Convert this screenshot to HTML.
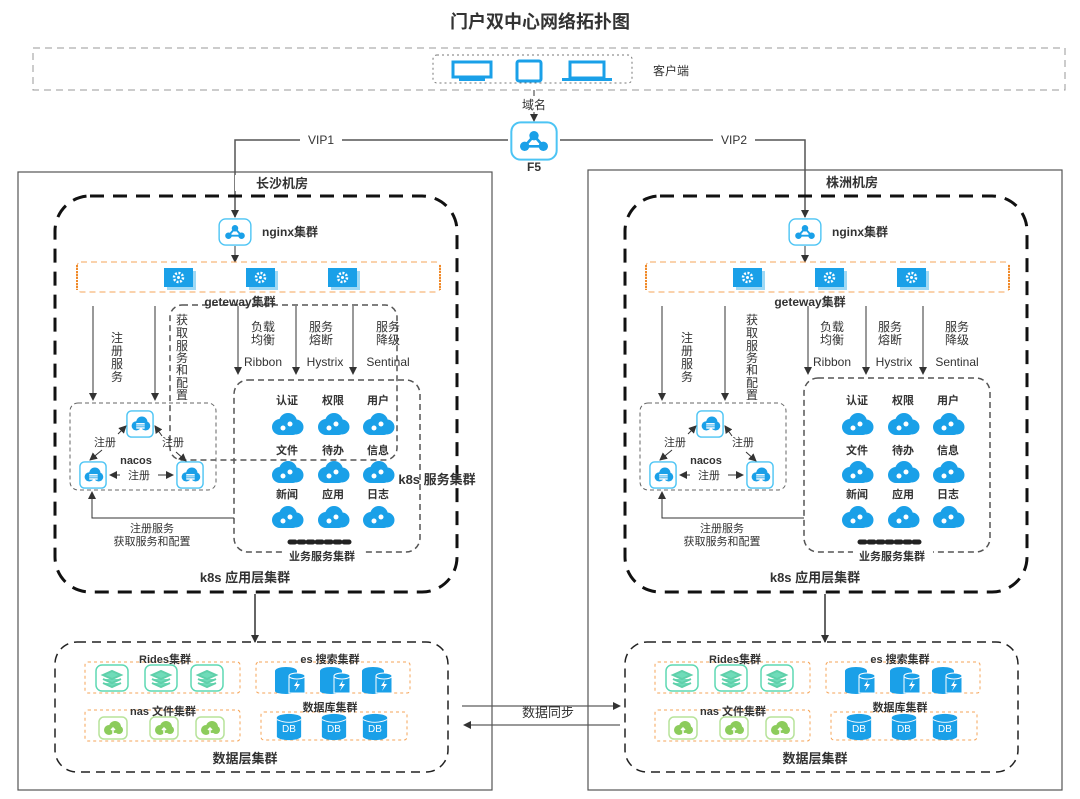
<!DOCTYPE html>
<html><head><meta charset="utf-8"><style>
html,body{margin:0;padding:0;background:#fff}
svg{display:block}
text{font-family:"Liberation Sans","Noto Sans CJK SC",sans-serif;fill:#333}
.b{font-weight:bold}
</style></head><body>
<svg width="1080" height="799" viewBox="0 0 1080 799" xmlns="http://www.w3.org/2000/svg">
<defs>
<marker id="ar" markerWidth="8" markerHeight="8" refX="7" refY="4" orient="auto" markerUnits="userSpaceOnUse"><path d="M0,0 L8,4 L0,8 z" fill="#333"/></marker>
<symbol id="hub" viewBox="0 0 36 30"><rect x="1" y="1" width="34" height="28" rx="7" fill="#fff" stroke="#4cc4f4" stroke-width="1.5"/><circle cx="18" cy="11" r="3.5" fill="#1aa0e8"/><circle cx="11" cy="19" r="3.5" fill="#1aa0e8"/><circle cx="25" cy="19" r="3.5" fill="#1aa0e8"/><path d="M18 11L11 19H25Z" fill="none" stroke="#1aa0e8" stroke-width="2"/></symbol>
<symbol id="gear" viewBox="0 0 32 22"><rect x="3" y="3" width="29" height="19" fill="#9fd9f5"/><rect x="0" y="0" width="29" height="19" fill="#1aa0e8"/><circle cx="14.5" cy="9.5" r="4.5" fill="none" stroke="#fff" stroke-width="2.5" stroke-dasharray="2 1.5"/><circle cx="14.5" cy="9.5" r="1.5" fill="#fff"/></symbol>
<symbol id="cloud" viewBox="0 0 34 26"><circle cx="10" cy="15" r="8" fill="#1aa0e8"/><circle cx="18" cy="10" r="9" fill="#1aa0e8"/><circle cx="26" cy="15" r="7.5" fill="#1aa0e8"/><rect x="8" y="14" width="19" height="9" rx="4" fill="#1aa0e8"/><circle cx="13" cy="16" r="2.5" fill="#fff"/><circle cx="20" cy="12" r="2.5" fill="#fff"/></symbol>
<symbol id="nac" viewBox="0 0 30 30"><rect x="1" y="1" width="28" height="28" rx="5" fill="#fff" stroke="#4cc4f4" stroke-width="1.5"/><circle cx="11" cy="17" r="5" fill="#1aa0e8"/><circle cx="17" cy="13" r="6" fill="#1aa0e8"/><circle cx="21" cy="17" r="5" fill="#1aa0e8"/><rect x="11" y="14" width="9" height="6" fill="#fff"/><path d="M11 16H20M11 18H20" stroke="#1aa0e8"/></symbol>
<symbol id="redis" viewBox="0 0 34 28"><rect x="1" y="1" width="32" height="26" rx="6" fill="#fff" stroke="#5fd9b4" stroke-width="1.5"/><path d="M8 11L17 7L26 11L17 15Z M8 15L17 19L26 15 M8 19L17 23L26 19" fill="#6fdcb9" stroke="#5fd0aa" stroke-width="2"/></symbol>
<symbol id="es" viewBox="0 0 34 28"><ellipse cx="13" cy="5" rx="11" ry="4" fill="#1aa0e8"/><rect x="2" y="5" width="22" height="20" fill="#1aa0e8"/><ellipse cx="13" cy="25" rx="11" ry="3" fill="#1aa0e8"/><rect x="16" y="10" width="16" height="17" fill="#1aa0e8" stroke="#fff"/><ellipse cx="24" cy="10" rx="8" ry="3" fill="#1aa0e8" stroke="#fff"/><path d="M25 14L21 20H24L22 25L27 18H24Z" fill="#fff"/></symbol>
<symbol id="nas" viewBox="0 0 30 24"><rect x="1" y="1" width="28" height="22" rx="5" fill="#fff" stroke="#b7e39a" stroke-width="1.5"/><circle cx="11" cy="14" r="5" fill="#8ccc5c"/><circle cx="17" cy="11" r="6" fill="#8ccc5c"/><circle cx="21" cy="14" r="4" fill="#8ccc5c"/><path d="M15 18V12M13 14L15 12L17 14" stroke="#fff" stroke-width="1.5" fill="none"/></symbol>
<symbol id="db" viewBox="0 0 28 30"><ellipse cx="14" cy="5" rx="13" ry="4" fill="#1aa0e8"/><rect x="1" y="5" width="26" height="20" fill="#1aa0e8"/><ellipse cx="14" cy="25" rx="13" ry="4" fill="#1aa0e8"/><path d="M1 7 Q14 13 27 7" stroke="#fff" fill="none"/></symbol>
</defs>

<text x="540" y="28" text-anchor="middle" font-size="18" class="b">门户双中心网络拓扑图</text>
<rect x="33" y="48" width="1032" height="42" fill="none" stroke="#999" stroke-dasharray="7 5"/>
<rect x="433" y="55" width="199" height="28" rx="4" fill="none" stroke="#777" stroke-dasharray="2 3"/>
<g fill="#1aa0e8"><rect x="453" y="62" width="38" height="15" fill="none" stroke="#1aa0e8" stroke-width="3"/><rect x="459" y="78" width="26" height="3"/>
<rect x="517" y="61" width="24" height="20" rx="2" fill="none" stroke="#1aa0e8" stroke-width="3"/>
<rect x="570" y="62" width="34" height="16" fill="none" stroke="#1aa0e8" stroke-width="3"/><rect x="562" y="78" width="50" height="3"/></g>
<text x="653" y="75" font-size="12">客户端</text>
<line x1="534" y1="90" x2="534" y2="96" stroke="#333"/>
<text x="534" y="109" text-anchor="middle" font-size="12">域名</text>
<line x1="534" y1="112" x2="534" y2="121" stroke="#333" marker-end="url(#ar)"/>
<use href="#hub" x="507" y="121" width="54" height="40"/>
<text x="534" y="171" text-anchor="middle" font-size="12" class="b">F5</text>
<path d="M508 140H235V217" fill="none" stroke="#555" stroke-width="1.5" marker-end="url(#ar)"/>
<path d="M560 140H805V217" fill="none" stroke="#555" stroke-width="1.5" marker-end="url(#ar)"/>
<rect x="300" y="132" width="42" height="14" fill="#fff"/><text x="321" y="144" text-anchor="middle" font-size="12">VIP1</text>
<rect x="713" y="132" width="42" height="14" fill="#fff"/><text x="734" y="144" text-anchor="middle" font-size="12">VIP2</text>

<!-- data sync -->
<line x1="462" y1="706" x2="620" y2="706" stroke="#333" marker-end="url(#ar)"/>
<line x1="620" y1="725" x2="464" y2="725" stroke="#333" marker-end="url(#ar)"/>
<text x="548" y="717" text-anchor="middle" font-size="13">数据同步</text>

<!-- LEFT -->
<g>
<rect x="18" y="172" width="474" height="618" fill="none" stroke="#555" stroke-width="1.2"/>
<rect x="235" y="175" width="95" height="16" fill="#fff"/>
<text x="282" y="188" text-anchor="middle" font-size="13" class="b">长沙机房</text>
<rect x="55" y="196" width="402" height="396" rx="35" fill="none" stroke="#111" stroke-width="3" stroke-dasharray="14 9"/>
<use href="#hub" x="217" y="218" width="36" height="28"/>
<text x="262" y="236" font-size="12" class="b">nginx集群</text>
<line x1="235" y1="246" x2="235" y2="262" stroke="#333" marker-end="url(#ar)"/>
<rect x="77" y="262" width="363" height="30" rx="4" fill="none" stroke="#f6a55a" stroke-dasharray="6 4"/>
<line x1="77" y1="265" x2="77" y2="290" stroke="#f08a2a" stroke-width="2" stroke-dasharray="2 1"/><line x1="440" y1="265" x2="440" y2="290" stroke="#f08a2a" stroke-width="2" stroke-dasharray="2 1"/>
<use href="#gear" x="164" y="268" width="32" height="22"/><use href="#gear" x="246" y="268" width="32" height="22"/><use href="#gear" x="328" y="268" width="32" height="22"/>
<rect x="170" y="305" width="227" height="155" rx="12" fill="none" stroke="#555" stroke-width="1.5" stroke-dasharray="6 4"/>
<text x="240" y="306" text-anchor="middle" font-size="12" class="b">geteway集群</text>
<line x1="93" y1="306" x2="93" y2="400" stroke="#333" marker-end="url(#ar)"/>
<line x1="155" y1="306" x2="155" y2="400" stroke="#333" marker-end="url(#ar)"/>
<g font-size="12" text-anchor="middle"><text x="117" y="342">注</text><text x="117" y="355">册</text><text x="117" y="368">服</text><text x="117" y="381">务</text>
<text x="182" y="324">获</text><text x="182" y="337">取</text><text x="182" y="350">服</text><text x="182" y="362">务</text><text x="182" y="374">和</text><text x="182" y="387">配</text><text x="182" y="399">置</text></g>
<line x1="238" y1="306" x2="238" y2="374" stroke="#333" marker-end="url(#ar)"/>
<line x1="296" y1="306" x2="296" y2="374" stroke="#333" marker-end="url(#ar)"/>
<line x1="353" y1="306" x2="353" y2="374" stroke="#333" marker-end="url(#ar)"/>
<g font-size="12" text-anchor="middle"><text x="263" y="331">负载</text><text x="263" y="344">均衡</text><text x="263" y="366">Ribbon</text>
<text x="321" y="331">服务</text><text x="321" y="344">熔断</text><text x="325" y="366">Hystrix</text>
<text x="388" y="331">服务</text><text x="388" y="344">降级</text><text x="388" y="366">Sentinal</text></g>
<rect x="70" y="403" width="146" height="87" rx="8" fill="none" stroke="#666" stroke-dasharray="4 3"/>
<use href="#nac" x="125" y="410" width="30" height="28"/><use href="#nac" x="78" y="461" width="30" height="28"/><use href="#nac" x="175" y="461" width="30" height="28"/>
<line x1="118" y1="434" x2="126" y2="426" stroke="#333" marker-end="url(#ar)"/><line x1="102" y1="450" x2="90" y2="460" stroke="#333" marker-end="url(#ar)"/>
<line x1="162" y1="436" x2="155" y2="426" stroke="#333" marker-end="url(#ar)"/><line x1="176" y1="452" x2="186" y2="461" stroke="#333" marker-end="url(#ar)"/>
<line x1="120" y1="475" x2="110" y2="475" stroke="#333" marker-end="url(#ar)"/><line x1="158" y1="475" x2="173" y2="475" stroke="#333" marker-end="url(#ar)"/>
<g font-size="11" text-anchor="middle"><text x="105" y="446">注册</text><text x="173" y="446">注册</text><text x="139" y="479">注册</text></g>
<text x="136" y="464" text-anchor="middle" font-size="11" class="b">nacos</text>
<rect x="234" y="380" width="186" height="172" rx="14" fill="none" stroke="#555" stroke-width="1.5" stroke-dasharray="6 4"/>
<g font-size="11" class="b" text-anchor="middle"><text x="287" y="404">认证</text><text x="333" y="404">权限</text><text x="378" y="404">用户</text>
<text x="287" y="454">文件</text><text x="333" y="454">待办</text><text x="378" y="454">信息</text>
<text x="287" y="498">新闻</text><text x="333" y="498">应用</text><text x="378" y="498">日志</text></g>
<g><use href="#cloud" x="270" y="412" width="34" height="26"/><use href="#cloud" x="316" y="412" width="34" height="26"/><use href="#cloud" x="361" y="412" width="34" height="26"/>
<use href="#cloud" x="270" y="460" width="34" height="26"/><use href="#cloud" x="316" y="460" width="34" height="26"/><use href="#cloud" x="361" y="460" width="34" height="26"/>
<use href="#cloud" x="270" y="505" width="34" height="26"/><use href="#cloud" x="316" y="505" width="34" height="26"/><use href="#cloud" x="361" y="505" width="34" height="26"/></g>
<line x1="290" y1="542" x2="352" y2="542" stroke="#222" stroke-width="5" stroke-dasharray="5 4" stroke-linecap="round"/>
<rect x="283" y="549" width="80" height="13" fill="#fff"/>
<text x="322" y="560" text-anchor="middle" font-size="11" class="b">业务服务集群</text>
<text x="437" y="484" text-anchor="middle" font-size="13" class="b">k8s 服务集群</text>
<path d="M234 518H92V492" fill="none" stroke="#333" marker-end="url(#ar)"/>
<text x="152" y="532" text-anchor="middle" font-size="11">注册服务</text><text x="152" y="545" text-anchor="middle" font-size="11">获取服务和配置</text>
<text x="245" y="582" text-anchor="middle" font-size="13" class="b">k8s 应用层集群</text>
<line x1="255" y1="594" x2="255" y2="642" stroke="#333" stroke-width="1.5" marker-end="url(#ar)"/>
<rect x="55" y="642" width="393" height="130" rx="22" fill="none" stroke="#222" stroke-width="1.5" stroke-dasharray="9 6"/>
<g fill="none" stroke="#f6a55a" stroke-dasharray="3 3"><rect x="85" y="662" width="155" height="31" rx="3"/><rect x="256" y="662" width="154" height="31" rx="3"/><rect x="85" y="710" width="155" height="31" rx="3"/><rect x="261" y="712" width="146" height="28" rx="3"/></g>
<g font-size="11" class="b" text-anchor="middle"><text x="165" y="663">Rides集群</text><text x="330" y="663">es 搜索集群</text><text x="163" y="715">nas 文件集群</text><text x="330" y="711">数据库集群</text></g>
<use href="#redis" x="95" y="664" width="34" height="28"/><use href="#redis" x="144" y="664" width="34" height="28"/><use href="#redis" x="190" y="664" width="34" height="28"/>
<use href="#es" x="273" y="666" width="34" height="28"/><use href="#es" x="318" y="666" width="34" height="28"/><use href="#es" x="360" y="666" width="34" height="28"/>
<use href="#nas" x="98" y="716" width="30" height="24"/><use href="#nas" x="149" y="716" width="30" height="24"/><use href="#nas" x="195" y="716" width="30" height="24"/>
<use href="#db" x="275" y="713" width="28" height="28"/><use href="#db" x="320" y="713" width="28" height="28"/><use href="#db" x="361" y="713" width="28" height="28"/>
<g font-size="10" fill="#fff" text-anchor="middle"><text x="289" y="732" fill="#fff">DB</text><text x="334" y="732" fill="#fff">DB</text><text x="375" y="732" fill="#fff">DB</text></g>
<text x="245" y="763" text-anchor="middle" font-size="13" class="b">数据层集群</text>
</g>

<!-- RIGHT -->
<g>
<rect x="588" y="170" width="474" height="620" fill="none" stroke="#555" stroke-width="1.2"/>
<rect x="806" y="174" width="95" height="16" fill="#fff"/>
<text x="852" y="187" text-anchor="middle" font-size="13" class="b">株洲机房</text>
<rect x="625" y="196" width="402" height="396" rx="35" fill="none" stroke="#111" stroke-width="3" stroke-dasharray="14 9"/>
<use href="#hub" x="787" y="218" width="36" height="28"/>
<text x="832" y="236" font-size="12" class="b">nginx集群</text>
<line x1="805" y1="246" x2="805" y2="262" stroke="#333" marker-end="url(#ar)"/>
<rect x="646" y="262" width="363" height="30" rx="4" fill="none" stroke="#f6a55a" stroke-dasharray="6 4"/>
<line x1="646" y1="265" x2="646" y2="290" stroke="#f08a2a" stroke-width="2" stroke-dasharray="2 1"/><line x1="1009" y1="265" x2="1009" y2="290" stroke="#f08a2a" stroke-width="2" stroke-dasharray="2 1"/>
<use href="#gear" x="733" y="268" width="32" height="22"/><use href="#gear" x="815" y="268" width="32" height="22"/><use href="#gear" x="897" y="268" width="32" height="22"/>
<text x="810" y="306" text-anchor="middle" font-size="12" class="b">geteway集群</text>
<line x1="662" y1="306" x2="662" y2="400" stroke="#333" marker-end="url(#ar)"/>
<line x1="725" y1="306" x2="725" y2="400" stroke="#333" marker-end="url(#ar)"/>
<g font-size="12" text-anchor="middle"><text x="687" y="342">注</text><text x="687" y="355">册</text><text x="687" y="368">服</text><text x="687" y="381">务</text>
<text x="752" y="324">获</text><text x="752" y="337">取</text><text x="752" y="350">服</text><text x="752" y="362">务</text><text x="752" y="374">和</text><text x="752" y="387">配</text><text x="752" y="399">置</text></g>
<line x1="808" y1="306" x2="808" y2="374" stroke="#333" marker-end="url(#ar)"/>
<line x1="866" y1="306" x2="866" y2="374" stroke="#333" marker-end="url(#ar)"/>
<line x1="923" y1="306" x2="923" y2="374" stroke="#333" marker-end="url(#ar)"/>
<g font-size="12" text-anchor="middle"><text x="832" y="331">负载</text><text x="832" y="344">均衡</text><text x="832" y="366">Ribbon</text>
<text x="890" y="331">服务</text><text x="890" y="344">熔断</text><text x="894" y="366">Hystrix</text>
<text x="957" y="331">服务</text><text x="957" y="344">降级</text><text x="957" y="366">Sentinal</text></g>
<rect x="640" y="403" width="146" height="87" rx="8" fill="none" stroke="#666" stroke-dasharray="4 3"/>
<use href="#nac" x="695" y="410" width="30" height="28"/><use href="#nac" x="648" y="461" width="30" height="28"/><use href="#nac" x="745" y="461" width="30" height="28"/>
<line x1="688" y1="434" x2="696" y2="426" stroke="#333" marker-end="url(#ar)"/><line x1="672" y1="450" x2="660" y2="460" stroke="#333" marker-end="url(#ar)"/>
<line x1="732" y1="436" x2="725" y2="426" stroke="#333" marker-end="url(#ar)"/><line x1="746" y1="452" x2="756" y2="461" stroke="#333" marker-end="url(#ar)"/>
<line x1="690" y1="475" x2="680" y2="475" stroke="#333" marker-end="url(#ar)"/><line x1="728" y1="475" x2="743" y2="475" stroke="#333" marker-end="url(#ar)"/>
<g font-size="11" text-anchor="middle"><text x="675" y="446">注册</text><text x="743" y="446">注册</text><text x="709" y="479">注册</text></g>
<text x="706" y="464" text-anchor="middle" font-size="11" class="b">nacos</text>
<rect x="804" y="378" width="186" height="174" rx="14" fill="none" stroke="#555" stroke-width="1.5" stroke-dasharray="6 4"/>
<g font-size="11" class="b" text-anchor="middle"><text x="857" y="404">认证</text><text x="903" y="404">权限</text><text x="948" y="404">用户</text>
<text x="857" y="454">文件</text><text x="903" y="454">待办</text><text x="948" y="454">信息</text>
<text x="857" y="498">新闻</text><text x="903" y="498">应用</text><text x="948" y="498">日志</text></g>
<g><use href="#cloud" x="840" y="412" width="34" height="26"/><use href="#cloud" x="886" y="412" width="34" height="26"/><use href="#cloud" x="931" y="412" width="34" height="26"/>
<use href="#cloud" x="840" y="460" width="34" height="26"/><use href="#cloud" x="886" y="460" width="34" height="26"/><use href="#cloud" x="931" y="460" width="34" height="26"/>
<use href="#cloud" x="840" y="505" width="34" height="26"/><use href="#cloud" x="886" y="505" width="34" height="26"/><use href="#cloud" x="931" y="505" width="34" height="26"/></g>
<line x1="860" y1="542" x2="922" y2="542" stroke="#222" stroke-width="5" stroke-dasharray="5 4" stroke-linecap="round"/>
<rect x="853" y="549" width="80" height="13" fill="#fff"/>
<text x="892" y="560" text-anchor="middle" font-size="11" class="b">业务服务集群</text>
<path d="M804 518H662V492" fill="none" stroke="#333" marker-end="url(#ar)"/>
<text x="722" y="532" text-anchor="middle" font-size="11">注册服务</text><text x="722" y="545" text-anchor="middle" font-size="11">获取服务和配置</text>
<text x="815" y="582" text-anchor="middle" font-size="13" class="b">k8s 应用层集群</text>
<line x1="825" y1="594" x2="825" y2="642" stroke="#333" stroke-width="1.5" marker-end="url(#ar)"/>
<rect x="625" y="642" width="393" height="130" rx="22" fill="none" stroke="#222" stroke-width="1.5" stroke-dasharray="9 6"/>
<g fill="none" stroke="#f6a55a" stroke-dasharray="3 3"><rect x="655" y="662" width="155" height="31" rx="3"/><rect x="826" y="662" width="154" height="31" rx="3"/><rect x="655" y="710" width="155" height="31" rx="3"/><rect x="831" y="712" width="146" height="28" rx="3"/></g>
<g font-size="11" class="b" text-anchor="middle"><text x="735" y="663">Rides集群</text><text x="900" y="663">es 搜索集群</text><text x="733" y="715">nas 文件集群</text><text x="900" y="711">数据库集群</text></g>
<use href="#redis" x="665" y="664" width="34" height="28"/><use href="#redis" x="714" y="664" width="34" height="28"/><use href="#redis" x="760" y="664" width="34" height="28"/>
<use href="#es" x="843" y="666" width="34" height="28"/><use href="#es" x="888" y="666" width="34" height="28"/><use href="#es" x="930" y="666" width="34" height="28"/>
<use href="#nas" x="668" y="716" width="30" height="24"/><use href="#nas" x="719" y="716" width="30" height="24"/><use href="#nas" x="765" y="716" width="30" height="24"/>
<use href="#db" x="845" y="713" width="28" height="28"/><use href="#db" x="890" y="713" width="28" height="28"/><use href="#db" x="931" y="713" width="28" height="28"/>
<g font-size="10" text-anchor="middle"><text x="859" y="732" fill="#fff" style="fill:#fff">DB</text><text x="904" y="732" style="fill:#fff">DB</text><text x="945" y="732" style="fill:#fff">DB</text></g>
<text x="815" y="763" text-anchor="middle" font-size="13" class="b">数据层集群</text>
</g>
<style>g[font-size="10"] text{fill:#fff}</style>
</svg>
</body></html>
